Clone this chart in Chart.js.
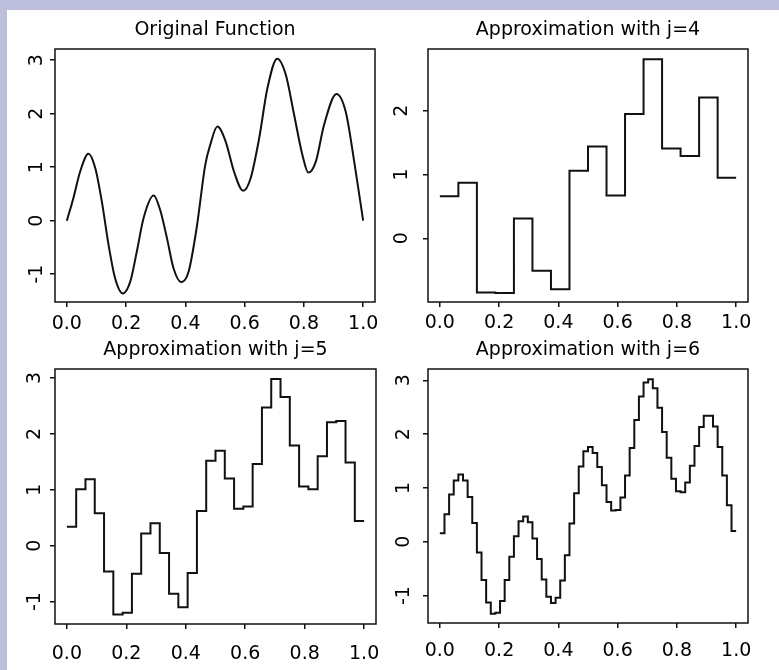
<!DOCTYPE html>
<html>
<head>
<meta charset="utf-8">
<script src="https://cdn.jsdelivr.net/npm/chart.js@4/dist/chart.umd.min.js"></script>
<style>
  html, body { margin: 0; padding: 0; }
  body { width: 779px; height: 670px; background: #bdbddc; position: relative; overflow: hidden; }
  #sheet { position: absolute; left: 7px; top: 10px; right: 0; bottom: 0; background: #fff; }
  canvas { position: absolute; }
</style>
</head>
<body>
<div id="sheet"></div>
<script>
// original function, read at irregular x positions
const origX = [0, 0.022, 0.045, 0.073, 0.096, 0.118, 0.141, 0.163, 0.189, 0.214,
  0.236, 0.259, 0.293, 0.315, 0.338, 0.36, 0.386, 0.411, 0.439, 0.467, 0.484,
  0.508, 0.536, 0.564, 0.595, 0.62, 0.649, 0.677, 0.71, 0.739, 0.767, 0.795,
  0.815, 0.84, 0.868, 0.91, 0.941, 0.97, 1.0];
const origY = [0, 0.42, 0.92, 1.25, 0.98, 0.36, -0.46, -1.08, -1.36, -1.14,
  -0.58, 0.05, 0.47, 0.2, -0.33, -0.89, -1.15, -0.95, -0.1, 1.04, 1.42,
  1.76, 1.48, 0.92, 0.56, 0.79, 1.54, 2.48, 3.03, 2.73, 1.98, 1.23,
  0.9, 1.1, 1.79, 2.37, 2.04, 1.1, 0];

// step approximations: one value per dyadic interval
const approxJ4 = [0.66, 0.87, -0.85, -0.86, 0.31, -0.51, -0.80, 1.06,
  1.44, 0.67, 1.95, 2.81, 1.41, 1.29, 2.21, 0.95];

const approxJ5 = [0.34, 1.01, 1.19, 0.58, -0.46, -1.23, -1.20, -0.50,
  0.22, 0.40, -0.13, -0.86, -1.10, -0.49, 0.62, 1.52,
  1.70, 1.20, 0.66, 0.70, 1.46, 2.47, 2.98, 2.66,
  1.79, 1.06, 1.01, 1.60, 2.21, 2.23, 1.49, 0.44];

const approxJ6 = [0.16, 0.51, 0.88, 1.14, 1.25, 1.14, 0.83, 0.35,
  -0.20, -0.71, -1.13, -1.34, -1.32, -1.10, -0.71, -0.28,
  0.10, 0.38, 0.47, 0.36, 0.06, -0.32, -0.70, -1.02,
  -1.14, -1.04, -0.72, -0.25, 0.34, 0.90, 1.40, 1.68,
  1.76, 1.65, 1.39, 1.05, 0.74, 0.58, 0.59, 0.82,
  1.23, 1.74, 2.26, 2.70, 2.96, 3.02, 2.85, 2.49,
  2.04, 1.56, 1.17, 0.94, 0.92, 1.10, 1.41, 1.78,
  2.13, 2.34, 2.34, 2.14, 1.76, 1.23, 0.68, 0.20];

const xTicks = [0, 0.2, 0.4, 0.6, 0.8, 1.0];
const yTicksFull = [-1, 0, 1, 2, 3];
const yTicksJ4 = [0, 1, 2];

const FONT = "'DejaVu Sans', sans-serif";
const INK = '#111';
const Y_AXIS_W = 44;
const X_AXIS_H = 42;
const TITLE_PAD = 7;
const TITLE_H = 24 + TITLE_PAD;

// turn interval values into points for a 'before' stepped line
function steps(vals) {
  const n = vals.length;
  const pts = vals.map((v, i) => ({ x: i / n, y: v }));
  pts.push({ x: 1, y: vals[n - 1] });
  return pts;
}

const frameBox = {
  id: 'frameBox',
  afterDraw(chart) {
    const { ctx, chartArea: a } = chart;
    ctx.save();
    ctx.strokeStyle = INK;
    ctx.lineWidth = 1.5;
    ctx.strokeRect(a.left, a.top, a.right - a.left, a.bottom - a.top);
    ctx.restore();
  }
};

function panel(opt) {
  const b = opt.box;
  const cv = document.createElement('canvas');
  cv.width = (b.r - b.l) + 2 * Y_AXIS_W;
  cv.height = (b.b - b.t) + TITLE_H + X_AXIS_H;
  cv.style.left = (b.l - Y_AXIS_W) + 'px';
  cv.style.top = (b.t - TITLE_H) + 'px';
  document.body.appendChild(cv);

  new Chart(cv, {
    type: 'line',
    data: {
      datasets: [{
        data: opt.points,
        borderColor: INK,
        borderWidth: 2,
        pointRadius: 0,
        fill: false,
        stepped: opt.stepped || false,
        cubicInterpolationMode: opt.stepped ? 'default' : 'monotone',
      }],
    },
    options: {
      responsive: false,
      animation: false,
      events: [],
      plugins: {
        legend: { display: false },
        tooltip: { enabled: false },
        title: {
          display: true,
          text: opt.title,
          color: '#000',
          font: { family: FONT, size: 19, weight: 'normal', lineHeight: '24px' },
          padding: { top: 0, bottom: TITLE_PAD },
        },
      },
      scales: {
        x: {
          type: 'linear',
          min: -0.04,
          max: 1.04,
          afterBuildTicks: (s) => { s.ticks = xTicks.map((v) => ({ value: v })); },
          afterFit: (s) => { s.height = X_AXIS_H; },
          border: { display: false },
          grid: { drawOnChartArea: false, drawTicks: true, tickLength: 5, color: INK, lineWidth: 1.5 },
          ticks: {
            color: '#000',
            padding: opt.xPad,
            maxRotation: 0,
            font: { family: FONT, size: 19 },
            callback: (v) => Number(v).toFixed(1),
          },
        },
        y: {
          type: 'linear',
          min: opt.yMin,
          max: opt.yMax,
          afterBuildTicks: (s) => { s.ticks = opt.yTicks.map((v) => ({ value: v })); },
          afterFit: (s) => { s.width = Y_AXIS_W; },
          border: { display: false },
          grid: { drawOnChartArea: false, drawTicks: true, tickLength: 5, color: INK, lineWidth: 1.5 },
          ticks: {
            color: '#000',
            padding: opt.yPad,
            minRotation: 90,
            maxRotation: 90,
            crossAlign: 'center',
            font: { family: FONT, size: 19 },
            callback: (v) => String(v),
          },
        },
        // empty right-hand axis keeps the title centred over the frame
        yRight: {
          type: 'linear',
          position: 'right',
          min: opt.yMin,
          max: opt.yMax,
          afterFit: (s) => { s.width = Y_AXIS_W; },
          border: { display: false },
          grid: { display: false },
          ticks: { display: false },
        },
      },
    },
    plugins: [frameBox],
  });
}

panel({
  title: 'Original Function',
  box: { l: 55, t: 49, r: 375, b: 302 },
  points: origX.map((x, i) => ({ x: x, y: origY[i] })),
  yMin: -1.52, yMax: 3.21, yTicks: yTicksFull, yPad: 3, xPad: 6,
});

panel({
  title: 'Approximation with j=4',
  box: { l: 428, t: 49, r: 748, b: 302 },
  points: steps(approxJ4), stepped: 'before',
  yMin: -1.0, yMax: 2.97, yTicks: yTicksJ4, yPad: 15, xPad: 5,
});

panel({
  title: 'Approximation with j=5',
  box: { l: 55, t: 369, r: 376, b: 624 },
  points: steps(approxJ5), stepped: 'before',
  yMin: -1.40, yMax: 3.16, yTicks: yTicksFull, yPad: 5, xPad: 14,
});

panel({
  title: 'Approximation with j=6',
  box: { l: 428, t: 369, r: 748, b: 623 },
  points: steps(approxJ6), stepped: 'before',
  yMin: -1.51, yMax: 3.21, yTicks: yTicksFull, yPad: 9, xPad: 12,
});
</script>
</body>
</html>
